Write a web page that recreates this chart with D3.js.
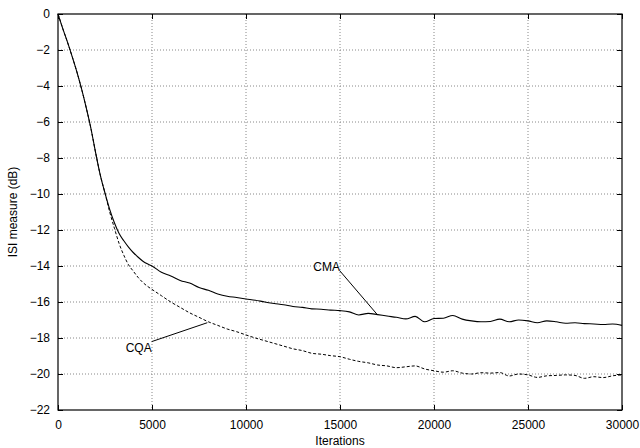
<!DOCTYPE html>
<html>
<head>
<meta charset="utf-8">
<script src="https://cdn.jsdelivr.net/npm/d3@7"></script>
<style>
  body { margin: 0; background: #fff; }
  text { font-family: 'Liberation Sans', Arial, sans-serif; font-size: 12px; fill: #000; }
</style>
</head>
<body>
<script>
// iteration grid
var iterations = [
    0, 250, 500, 750, 1000, 1250, 1500, 1750, 2000, 2250, 2500, 2750, 3000,
    3250, 3500, 3750, 4000, 4250, 4500, 4750, 5000, 5500, 6000, 6500, 7000, 7500, 8000, 8500, 9000, 9500,
    10000, 10500, 11000, 11500, 12000, 12500, 13000, 13500, 14000, 14500,
    15000, 15500, 16000, 16500, 17000, 17500, 18000, 18500, 19000, 19500,
    20000, 20500, 21000, 21500, 22000, 22500, 23000, 23500, 24000, 24500,
    25000, 25500, 26000, 26500, 27000, 27500, 28000, 28500, 29000, 29500, 30000
];

// ISI (dB) per series
var cma = [
    0, -0.8, -1.55, -2.35, -3.2, -4.15, -5.2, -6.35, -7.7, -8.95, -9.95, -10.85, -11.6,
    -12.2, -12.6, -12.95, -13.25, -13.5, -13.72, -13.88, -14.0, -14.35, -14.55, -14.8, -14.95, -15.2, -15.35, -15.55, -15.68, -15.75,
    -15.83, -15.9, -16.0, -16.08, -16.15, -16.25, -16.3, -16.38, -16.4, -16.45,
    -16.48, -16.55, -16.72, -16.63, -16.7, -16.78, -16.85, -16.94, -16.8, -17.1,
    -16.92, -16.9, -16.75, -16.95, -17.05, -17.1, -17.08, -16.95, -17.1, -17.0,
    -17.05, -17.15, -17.05, -17.1, -17.18, -17.15, -17.2, -17.22, -17.25, -17.22, -17.3
];
var cqa = [
    0, -0.8, -1.55, -2.35, -3.2, -4.15, -5.2, -6.35, -7.7, -8.95, -9.95, -11.0, -11.9,
    -12.75, -13.4, -13.93, -14.28, -14.62, -14.9, -15.12, -15.3, -15.65, -16.0, -16.3, -16.6, -16.85, -17.1, -17.3, -17.5, -17.65,
    -17.83, -18.0, -18.15, -18.3, -18.45, -18.6, -18.7, -18.85, -18.9, -18.98,
    -19.04, -19.18, -19.3, -19.38, -19.5, -19.55, -19.65, -19.6, -19.55, -19.72,
    -19.82, -19.9, -19.82, -19.95, -20.0, -19.93, -19.95, -19.92, -20.11, -20.0,
    -20.05, -20.19, -20.1, -20.08, -20.05, -20.08, -20.24, -20.15, -20.2, -20.1, -20.05
];

// tick labels
var xTicks = [0, 5000, 10000, 15000, 20000, 25000, 30000];
var yTicks = [0, -2, -4, -6, -8, -10, -12, -14, -16, -18, -20, -22];

// annotations: label, label anchor point, point on curve
var labels = [
    { text: 'CMA', at: [15000, -14.28], to: [17000, -16.72], anchor: 'end', dy: 0 },
    { text: 'CQA', at: [4984, -18.2], to: [7943, -17.15], anchor: 'end', dy: 10 }
];

var width = 640, height = 448;
var margin = { top: 14, right: 18, bottom: 38, left: 58 };

var svg = d3.select('body')
    .append('svg')
    .attr('width', width)
    .attr('height', height);

var x = d3.scaleLinear().domain([0, 30000]).range([margin.left, width - margin.right]);
var y = d3.scaleLinear().domain([-22, 0]).range([height - margin.bottom, margin.top]);

// grid
svg.append('g').selectAll('line').data(xTicks.slice(1, -1)).enter().append('line')
    .attr('x1', function (d) { return x(d); })
    .attr('x2', function (d) { return x(d); })
    .attr('y1', y(0))
    .attr('y2', y(-22))
    .attr('stroke', '#888')
    .attr('stroke-width', 1)
    .attr('stroke-dasharray', '1,2');

svg.append('g').selectAll('line').data(yTicks.slice(1, -1)).enter().append('line')
    .attr('x1', x(0))
    .attr('x2', x(30000))
    .attr('y1', function (d) { return y(d); })
    .attr('y2', function (d) { return y(d); })
    .attr('stroke', '#888')
    .attr('stroke-width', 1)
    .attr('stroke-dasharray', '1,2');

// axes, ticks pointing inward
var fmt = function (d) { return d < 0 ? '\u2212' + Math.abs(d) : String(d); };

var xAxis = svg.append('g')
    .attr('transform', 'translate(0,' + y(-22) + ')')
    .call(d3.axisBottom(x).tickValues(xTicks).tickSize(-5).tickPadding(10).tickFormat(fmt));
var xTop = svg.append('g')
    .attr('transform', 'translate(0,' + y(0) + ')')
    .call(d3.axisTop(x).tickValues(xTicks).tickSize(-5).tickFormat(''));
var yAxis = svg.append('g')
    .attr('transform', 'translate(' + x(0) + ',0)')
    .call(d3.axisLeft(y).tickValues(yTicks).tickSize(-5).tickPadding(8).tickFormat(fmt));
var yRight = svg.append('g')
    .attr('transform', 'translate(' + x(30000) + ',0)')
    .call(d3.axisRight(y).tickValues(yTicks).tickSize(-5).tickFormat(''));

[xAxis, xTop, yAxis, yRight].forEach(function (g) {
    g.select('.domain').remove();
    g.selectAll('.tick line').attr('stroke', '#000');
    g.selectAll('text')
        .attr('font-family', "'Liberation Sans', Arial, sans-serif")
        .attr('font-size', 12);
});

// frame
svg.append('rect')
    .attr('x', x(0))
    .attr('y', y(0))
    .attr('width', x(30000) - x(0))
    .attr('height', y(-22) - y(0))
    .attr('fill', 'none')
    .attr('stroke', '#000')
    .attr('stroke-width', 1.2);

// curves
var line = d3.line()
    .curve(d3.curveMonotoneX)
    .x(function (d) { return x(d[0]); })
    .y(function (d) { return y(d[1]); });

svg.append('path')
    .datum(d3.zip(iterations, cma))
    .attr('d', line)
    .attr('fill', 'none')
    .attr('stroke', '#000')
    .attr('stroke-width', 1.1);

svg.append('path')
    .datum(d3.zip(iterations, cqa))
    .attr('d', line)
    .attr('fill', 'none')
    .attr('stroke', '#000')
    .attr('stroke-width', 1)
    .attr('stroke-dasharray', '3,2');

// annotations
labels.forEach(function (l) {
    svg.append('line')
        .attr('x1', x(l.at[0]))
        .attr('y1', y(l.at[1]))
        .attr('x2', x(l.to[0]))
        .attr('y2', y(l.to[1]))
        .attr('stroke', '#000')
        .attr('stroke-width', 1);
    svg.append('text')
        .attr('x', x(l.at[0]))
        .attr('y', y(l.at[1]) + l.dy)
        .attr('text-anchor', l.anchor)
        .text(l.text);
});

// axis titles
svg.append('text')
    .attr('x', (x(0) + x(30000)) / 2)
    .attr('y', 445)
    .attr('text-anchor', 'middle')
    .text('Iterations');

svg.append('text')
    .attr('transform', 'translate(17,' + (y(0) + y(-22)) / 2 + ') rotate(-90)')
    .attr('text-anchor', 'middle')
    .text('ISI measure (dB)');
</script>
</body>
</html>
